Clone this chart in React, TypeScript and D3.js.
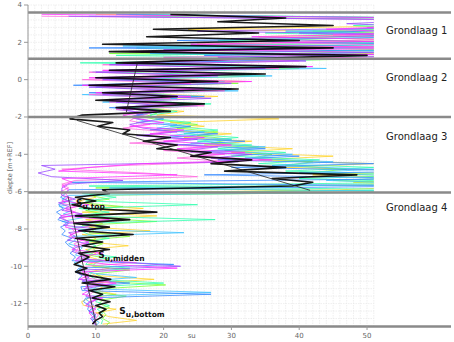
import React from 'react';
import * as d3 from 'd3';

const W = 454;
const H = 342;

// depth grids (m+REF)
const DEPTH_A = [3.5,3.3,3.1,2.9,2.7,2.5,2.3,2.1,1.9,1.7,1.5,1.3,
  1.1,0.9,0.7,0.5,0.3,0.1,-0.1,-0.3,-0.5,-0.7,-0.9,-1.1,-1.3,-1.5,-1.7,-1.9,
  -2.1,-2.3,-2.5,-2.7,-2.9,-3.1,-3.3,-3.5,-3.7,-3.9,-4.1,-4.3,-4.5,-4.7,-4.9,-5.1,-5.3,-5.5,-5.7,-5.9,
  -6.1,-6.3,-6.5,-6.7,-6.9,-7.1,-7.3,-7.5,-7.7,-7.9,-8.1,-8.3,-8.5,-8.7,-8.9,-9.1,-9.3,-9.5,-9.7,-9.9,
  -10.1,-10.3,-10.5,-10.7,-10.9,-11.1,-11.3,-11.5,-11.7,-11.9,-12.1,-12.3,-12.5,-12.7,-12.9,-13.1];
const DEPTH_B = [3.4,3.2,3.0,2.8,2.6,2.4,2.2,2.0,1.8,1.6,1.4,1.2,
  1.0,0.8,0.6,0.4,0.2,0.0,-0.2,-0.4,-0.6,-0.8,-1.0,-1.2,-1.4,-1.6,-1.8,-2.0,
  -2.2,-2.4,-2.6,-2.8,-3.0,-3.2,-3.4,-3.6,-3.8,-4.0,-4.2,-4.4,-4.6,-4.8,-5.0,-5.2,-5.4,-5.6,-5.8,-6.0,
  -6.2,-6.4,-6.6,-6.8,-7.0,-7.2,-7.4,-7.6,-7.8,-8.0,-8.2,-8.4,-8.6,-8.8,-9.0,-9.2,-9.4,-9.6,-9.8,-10.0,
  -10.2,-10.4,-10.6,-10.8,-11.0,-11.2,-11.4,-11.6,-11.8,-12.0,-12.2,-12.4,-12.6,-12.8,-13.0,-13.2];

// su profiles (values beyond 51 are cut off at the plot edge)
const SU_MAGENTA = [2,60,60,58,44,60,33,60,24,60,15,60,
  36,14,42,11,30,9,33,8,26,10,24,12,22,13,19,14,
  16,20,15,23,18,26,20,30,22,32,24,36,17,9,4.5,22,5,6.5,5,6,
  5.5,6,5,9,5.5,7,4.8,12,6,5.5,8,6.2,6.8,9,7,6.5,11,7.5,7,12,22,8,9,7.5,13,8.5,9,8,11,9,8.5,10,9,9.5,10,9.5];
const SU_VIOLET = [6,60,47,60,25,60,30,55,60,20,60,28,
  41,12,35,10,28,11,30,9,23,11,27,13,20,14,17,15,
  18,15,17,22,16,25,19,28,23,33,27,31,2,4,1.5,3.5,14,6,5,5,
  5,7,4.5,6,5,8,4.6,6,5.2,10,6,7,5.8,9,7,6.5,8,7.2,15,22.5,8,7.5,9,8,12,8.2,9,8.5,10,8.8,9.5,9,10,9.2,9.8,10];
const SU_BLUE = [13,60,60,52,60,40,60,22,60,9,60,26,
  45,16,38,12,32,10,25,6.7,30,9,26,12,23,12,20,16,
  20,16,24,18,28,20,32,22,35,24,40,28,51,30,60,26,60,6.5,60,6,
  5.5,4.8,6,4.5,5.2,4.2,5,4.4,6,4.8,5.5,5,6.5,5.5,6,7,6.2,7,6.5,21.5,7.5,7,8,7.4,15,7.8,8,27,8.5,8.2,9,8.8,9.2,10,9.5,9.8];
const SU_SKY = [9,60,60,60,38,60,52,60,14,60,18,60,
  30,13,44,9.5,36,12,28,10,31,8,22,11,25,13,18,15,
  17,22,19,26,21,30,24,35,27,39,32,45,36,51,40,60,44,60,12,60,
  6,5,7,4.6,6.5,5.2,8,5,9,6,23,6.5,7,6,8,7.5,7,9,6.8,8,7.5,10,16,8,9,8.5,27,9,8.6,9.5,10,9,10,9.4,10.5,10];
const SU_MINT = [15,60,60,48,60,35,60,28,60,16,60,13,
  48,7.7,38,13,33,11,29,10,27,12,25,14,27,15,22,18,
  19,24,21,28,23,31,25,33,28,38,30,43,34,51,38,60,40,60,9,60,
  8,13,8.5,25,7.5,12,7,27.6,8,11,7.8,9,12,8.5,10,9,8,13,9,8.5,15,9.5,9,10,20,10,9.5,11,10.5,10,12,10.2,11,10.5,11,10.8];
const SU_LIME = [17,60,55,60,42,60,30,60,20,60,12,60,
  35,15,40,12,35,13,31,11,28,12,22,14,24,16,19,17,
  20,25,22,28,25,30,27,34,29,36,33,42,38,47,41,60,45,60,10,60,
  9,12,8,14,8.5,11,9,19,8,10,9,15,8.5,11,9.5,10,9,12,10,9.5,15,10,11,10.5,20.3,11,10,14.5,11,10.5,12,11,11.5,11,12,11.5];
const SU_YELLOW = [10,60,52,60,23.6,60,34,60,25,60,40,60,
  28,16,36,13,30,14,32,12,25,13,28,15,24,16,23,19,
  37,21,26,20,30,23,33,26,39,30,45,34,51,38,60,42,60,48,60,46,
  9,10,7.5,9,17,8,19,8.5,11,9,18,8,10,9,14.8,8.5,10,9,11,8.8,12,9,10,18.6,9.5,11,10,13,9,7.9,8.2,13,10,12,16,11];
const SU_PINK = [2,60,60,50,60,45,60,36,60,31,60,20,
  40,11,37,9,27,8,24,11,29,9,21,12,26,13,18,16,
  15,18,14,21,17,24,15,27,20,29,22,30,14,5,17,25,7,5,6,4.8,
  5,6.5,4.8,7,5.5,8,5,6,10,6.5,7,6,8,6.8,7.5,7,9,8,16,8.5,7.8,9,8.2,12,8.6,9,9.5,8.8,10,9.2,10,9.5,10.4,10,9.8,10];
const SU_BLACK = [21,38,28,45,18.5,34,17.5,40,11,45,12,50,
  30,13,41,12,35,10,28,9,31,11,22,10,26,13,21,8,
  6.2,12.5,10.3,15,14,21,17,22,19,27,24,33,27,38,29,48.5,36,42,39,11,
  12,7,10,6.5,9,19,7,15,6.8,12,7.5,15.5,7,11,8,12,7.5,9,8,6.8,8.7,7,9,12.2,8,12.8,9,11,9.5,12.1,10,11.5,10.5,11,10,9.5];

const COLORED = [
  { su: SU_YELLOW, depth: DEPTH_A, color: '#ffd530' },
  { su: SU_LIME, depth: DEPTH_B, color: '#7dff3a' },
  { su: SU_MINT, depth: DEPTH_A, color: '#35ffb0' },
  { su: SU_SKY, depth: DEPTH_B, color: '#45c4ff' },
  { su: SU_BLUE, depth: DEPTH_A, color: '#3a8cff' },
  { su: SU_PINK, depth: DEPTH_B, color: '#ff6ae0' },
  { su: SU_VIOLET, depth: DEPTH_B, color: '#9a4cff' },
  { su: SU_MAGENTA, depth: DEPTH_A, color: '#ff33ff' },
];

// trend lines per layer: [su start, su end], [depth start, depth end]
const TREND_SU = [[16.1, 14.5], [7.2, 41.6], [5.9, 10.1]];
const TREND_DEPTH = [[0.86, -1.74], [-2.18, -5.93], [-6.26, -13.2]];

const LAYER_BOUNDS = [3.6, 1.12, -2.0, -6.05, -13.23];
const LAYER_NAMES = ['Grondlaag 1', 'Grondlaag 2', 'Grondlaag 3', 'Grondlaag 4'];
const LAYER_LABEL_DEPTH = [2.64, 0.12, -3.04, -6.83];

const SU_LABELS = ['top', 'midden', 'bottom'];
const SU_LABEL_SU = [7.08, 10.37, 13.47];
const SU_LABEL_DEPTH = [-6.79, -9.58, -12.58];

const X_TICKS = [0, 10, 20, 30, 40, 50];
const Y_TICKS = [4, 2, 0, -2, -4, -6, -8, -10, -12];

export default function App() {
  const x = d3.scaleLinear().domain([0, 51]).range([28, 373.8]);
  const y = d3.scaleLinear().domain([4, -13.2]).range([5, 326]);
  const mk = (depth: number[]) =>
    d3.line<number>().x((d) => x(d)).y((_, i) => y(depth[i]));

  const gridX = d3.range(0, 52, 1);
  const gridY = d3.range(-33, 11).map((k) => k * 0.4);
  const font = 'DejaVu Sans, Verdana, sans-serif';

  return (
    <svg width={W} height={H} style={{ position: 'absolute', left: 0, top: 0, background: '#fff' }}>
      <defs>
        <clipPath id="plot">
          <rect x={x(0)} y={y(4)} width={x(51) - x(0)} height={y(-13.2) - y(4)} />
        </clipPath>
      </defs>
      <g>
        {gridX.map((v) => (
          <line key={'gx' + v} x1={x(v)} x2={x(v)} y1={y(4)} y2={y(-13.2)}
            stroke="#e4e4e4" strokeWidth={0.6} strokeDasharray="1.5,1" />
        ))}
        {gridY.map((v, i) => (
          <line key={'gy' + i} x1={x(0)} x2={x(51)} y1={y(v)} y2={y(v)}
            stroke="#e4e4e4" strokeWidth={0.6} strokeDasharray="1.5,1" />
        ))}
      </g>
      <g clipPath="url(#plot)">
        {COLORED.map((p, k) => (
          <path key={k} d={mk(p.depth)(p.su) || ''} fill="none" stroke={p.color}
            strokeWidth={1} strokeOpacity={0.8} strokeLinejoin="round" />
        ))}
        <path d={mk(DEPTH_A)(SU_BLACK) || ''} fill="none" stroke="#000" strokeWidth={1.6}
          strokeLinejoin="round" strokeOpacity={0.9} />
        {TREND_SU.map((s, k) => (
          <line key={'t' + k} x1={x(s[0])} x2={x(s[1])} y1={y(TREND_DEPTH[k][0])} y2={y(TREND_DEPTH[k][1])}
            stroke="#222" strokeWidth={0.8} />
        ))}
      </g>
      {LAYER_BOUNDS.map((b, k) => (
        <line key={'b' + k} x1={x(0)} x2={451} y1={y(b)} y2={y(b)} stroke="#8a8a8a" strokeWidth={2.6} />
      ))}
      {/* y axis */}
      <line x1={x(0)} x2={x(0)} y1={y(4)} y2={y(-13.2)} stroke="#999" strokeWidth={1} />
      {Y_TICKS.map((t) => (
        <g key={'yt' + t}>
          <line x1={x(0) - 4} x2={x(0)} y1={y(t)} y2={y(t)} stroke="#999" />
          <text x={x(0) - 6} y={y(t)} dy="0.35em" textAnchor="end" fontSize={7} fill="#666" fontFamily={font}>{t}</text>
        </g>
      ))}
      {X_TICKS.map((t) => (
        <g key={'xt' + t}>
          <line x1={x(t)} x2={x(t)} y1={326} y2={330} stroke="#999" />
          <text x={x(t)} y={338} textAnchor="middle" fontSize={7} fill="#666" fontFamily={font}>{t}</text>
        </g>
      ))}
      <text x={191.7} y={338} textAnchor="middle" fontSize={7} fill="#666" fontFamily={font}>su</text>
      <text transform={`translate(12,168) rotate(-90)`} textAnchor="middle" fontSize={6.5} fill="#666" fontFamily={font}>diepte [m+REF]</text>
      {LAYER_NAMES.map((n, k) => (
        <text key={n} x={386} y={y(LAYER_LABEL_DEPTH[k])} dy="0.35em" fontSize={10} fill="#222" fontFamily={font}>{n}</text>
      ))}
      {SU_LABELS.map((s, k) => (
        <text key={s} x={x(SU_LABEL_SU[k])} y={y(SU_LABEL_DEPTH[k])} fontFamily={font} fontWeight="bold" fill="#111">
          <tspan fontSize={9}>S</tspan>
          <tspan fontSize={7.5} dy={2.5}>{'u,' + s}</tspan>
        </text>
      ))}
    </svg>
  );
}
